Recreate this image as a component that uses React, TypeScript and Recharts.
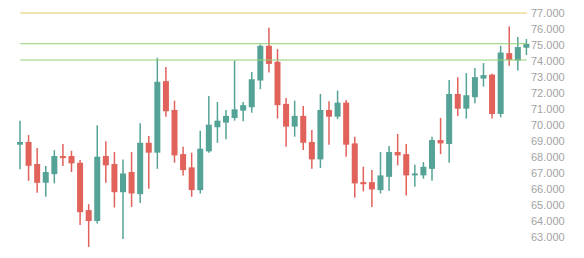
import React from 'react';
import { ComposedChart, Bar, XAxis, YAxis, ReferenceLine } from 'recharts';

const days = [
  'D01','D02','D03','D04','D05','D06','D07','D08','D09','D10',
  'D11','D12','D13','D14','D15','D16','D17','D18','D19','D20',
  'D21','D22','D23','D24','D25','D26','D27','D28','D29','D30',
  'D31','D32','D33','D34','D35','D36','D37','D38','D39','D40',
  'D41','D42','D43','D44','D45','D46','D47','D48','D49','D50',
  'D51','D52','D53','D54','D55','D56','D57','D58','D59','D60',
];

const openValues = [
  68.77, 68.94, 67.56, 66.39, 66.93, 68.06, 68.06, 67.64, 64.68, 64.0,
  68.06, 67.56, 65.8, 67.06, 65.68, 68.89, 68.27, 72.74, 70.94, 68.18,
  67.35, 65.93, 68.35, 69.86, 70.15, 70.44, 70.9, 71.11, 72.78, 74.95,
  73.95, 71.32, 69.9, 70.57, 68.94, 67.85, 70.94, 70.52, 71.4, 68.85,
  66.43, 66.43, 65.93, 66.76, 68.31, 68.18, 66.85, 66.85, 67.26, 69.06,
  68.81, 71.94, 71.02, 71.74, 72.9, 73.15, 70.69, 74.49, 74.03, 74.83,
];

const closeValues = [
  68.94, 67.45, 66.39, 67.06, 68.06, 67.93, 67.6, 64.55, 64.0, 68.02,
  67.48, 65.8, 66.97, 65.72, 68.89, 68.27, 72.7, 70.86, 68.1, 67.18,
  65.93, 68.52, 70.02, 70.27, 70.57, 70.98, 71.24, 72.86, 74.95, 73.82,
  71.24, 69.9, 70.57, 68.89, 67.85, 70.94, 70.52, 71.4, 68.77, 66.35,
  66.3, 65.97, 66.85, 68.31, 68.1, 66.85, 66.97, 67.39, 69.06, 68.85,
  71.94, 71.02, 71.86, 72.99, 73.12, 70.69, 74.53, 74.07, 74.87, 75.08,
];

const highValues = [
  70.27, 69.37, 68.56, 67.43, 68.43, 68.81, 68.39, 67.81, 65.05, 69.98,
  68.98, 68.31, 67.85, 68.31, 70.11, 69.31, 74.2, 73.62, 71.52, 68.64,
  68.27, 69.64, 71.82, 71.44, 70.94, 74.03, 71.44, 73.32, 75.03, 76.08,
  74.74, 71.69, 71.52, 71.19, 69.69, 71.94, 71.49, 72.15, 71.57, 69.27,
  67.39, 67.18, 68.31, 68.69, 69.44, 68.81, 67.51, 67.68, 69.27, 70.44,
  72.82, 72.99, 73.24, 73.57, 73.87, 73.2, 74.95, 76.16, 75.5, 75.37,
];

const lowValues = [
  67.23, 66.51, 65.76, 65.51, 66.35, 67.43, 67.06, 63.75, 62.38, 63.84,
  66.39, 64.84, 62.88, 64.88, 65.13, 66.01, 67.26, 70.52, 67.64, 66.85,
  65.51, 65.72, 68.27, 68.89, 69.11, 70.27, 70.23, 70.77, 72.24, 73.28,
  70.4, 68.64, 69.27, 68.43, 67.26, 67.31, 68.77, 70.36, 68.02, 65.47,
  65.85, 64.88, 65.72, 65.89, 67.48, 65.6, 66.14, 66.64, 66.51, 68.18,
  67.64, 70.57, 70.4, 71.36, 72.4, 70.4, 70.48, 73.7, 73.4, 74.37,
];

const yTicks = [63, 64, 65, 66, 67, 68, 69, 70, 71, 72, 73, 74, 75, 76, 77];

const markValues = [77, 75.08, 74.06];
const markColors = ['#e3cc5e', '#8fcf72', '#8fcf72'];

const UP = '#55a397';
const DOWN = '#e0625a';

const data = days.map((d, i) => ({
  day: d,
  open: openValues[i],
  close: closeValues[i],
  high: highValues[i],
  low: lowValues[i],
  range: [lowValues[i], highValues[i]],
}));

const Candle = (props: any) => {
  const { x, y, width, height, payload } = props;
  if (!payload) return null;
  const { open, close, high, low } = payload;
  const top = Math.min(y, y + height);
  const h = Math.abs(height);
  const ratio = high === low ? 0 : h / (high - low);
  const py = (v: number) => top + (high - v) * ratio;
  const up = close >= open;
  const color = up ? UP : DOWN;
  const bTop = py(Math.max(open, close));
  const bBot = py(Math.min(open, close));
  const cx = x + width / 2;
  return (
    <g>
      <line x1={cx} x2={cx} y1={top} y2={top + h} stroke={color} strokeWidth={1.5} />
      <rect x={x} y={bTop} width={width} height={Math.max(bBot - bTop, 1.5)} fill={color} />
    </g>
  );
};

export default function App() {
  return (
    <div style={{ position: 'absolute', left: 0, top: 0, width: 584, height: 258, background: '#fff' }}>
      <ComposedChart
        width={584}
        height={258}
        data={data}
        margin={{ top: 13, right: 0, left: 16, bottom: 5 }}
      >
        <XAxis dataKey="day" hide />
        <YAxis
          orientation="right"
          domain={[62, 77]}
          ticks={yTicks}
          width={53}
          axisLine={false}
          tickLine={false}
          tickSize={0}
          tickMargin={0}
          interval={0}
          tickFormatter={(v: number) => v.toFixed(3)}
          tick={{ fill: '#a3a3a3', fontSize: 11, fontFamily: 'Liberation Sans, Arial, sans-serif' }}
        />
        {markValues.map((v, i) => (
          <ReferenceLine
            key={i}
            segment={[{ x: days[0], y: v }, { x: days[days.length - 1], y: v }]}
            stroke={markColors[i]}
            strokeWidth={1}
          />
        ))}
        <Bar dataKey="range" barSize={6} shape={Candle} isAnimationActive={false} />
      </ComposedChart>
    </div>
  );
}
